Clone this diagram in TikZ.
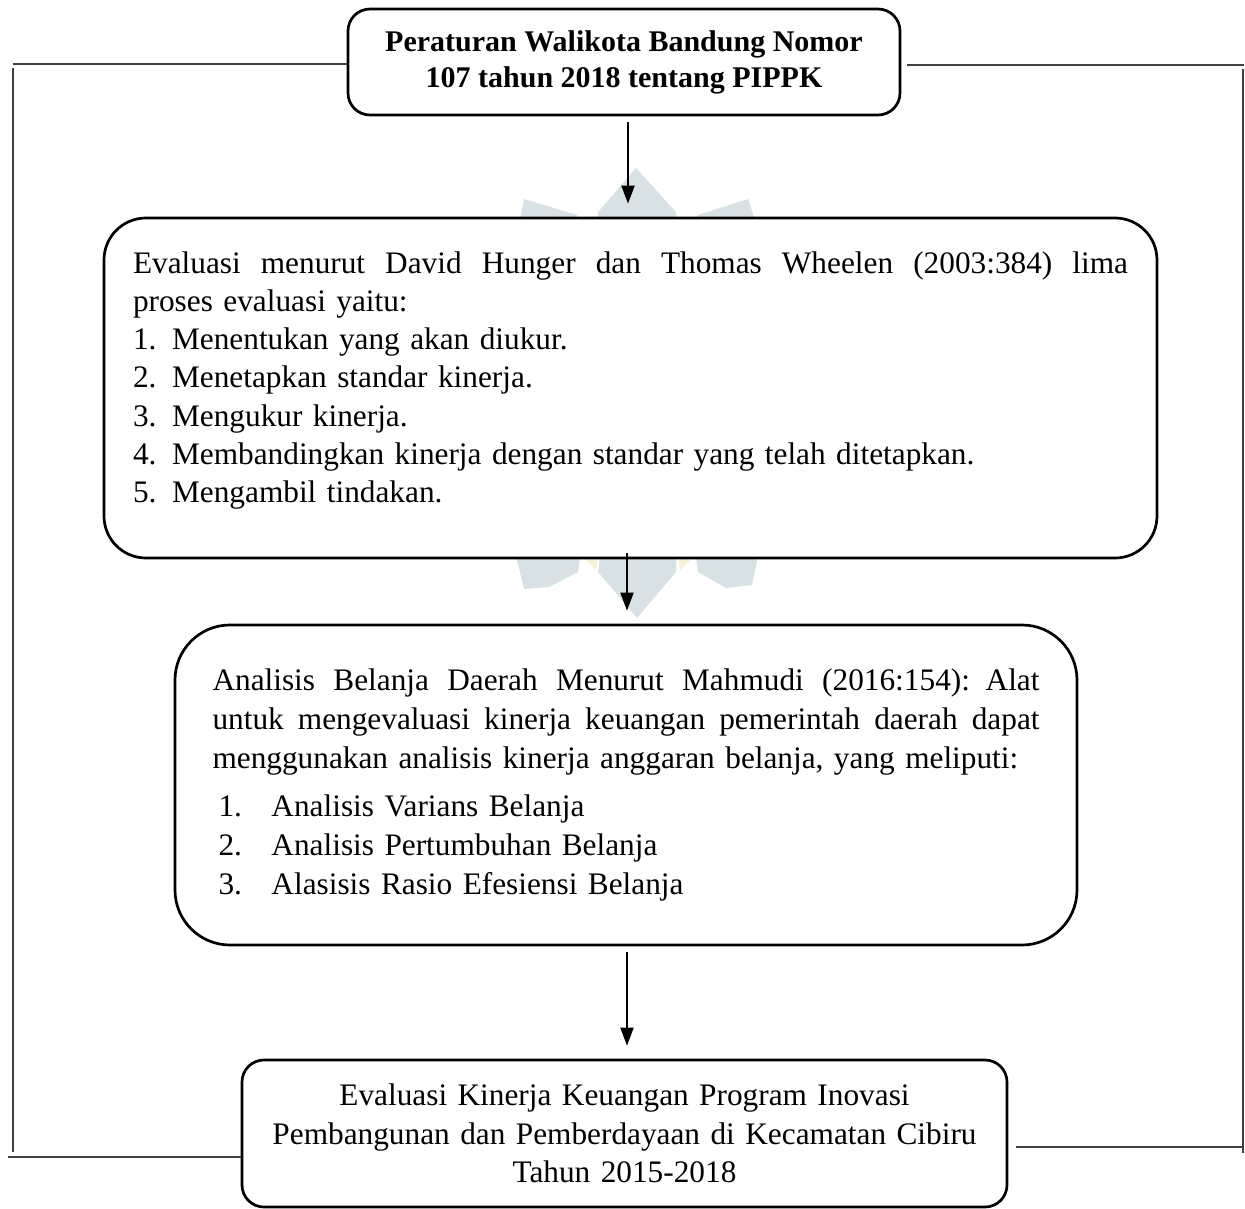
\documentclass[tikz,border=0pt]{standalone}
\usepackage{fontspec}
\setmainfont{Liberation Serif}
\usetikzlibrary{arrows.meta}

\definecolor{tanda}{RGB}{216,226,228}
\definecolor{kuning}{RGB}{245,243,214}
\newcommand{\hurufteks}{\fontsize{31.3}{38.3}\selectfont}
\newcommand{\ruangbawah}[1]{\par\nointerlineskip\vbox to #1{}}
%Baris rata kiri-kanan
\newcommand{\rata}[2]{\leavevmode\hbox to #1{\spaceskip=0.25em plus 1em\relax #2}}

\begin{document}
\begin{tikzpicture}[x=1pt,y=-1pt,
  kotak/.style={draw, line width=2.7pt, fill=white, inner sep=0pt, font=\hurufteks},
  panah/.style={-{Triangle[length=18pt,width=13pt]}, line width=2pt},
  garis/.style={line width=1.5pt, draw=black!75}]

\useasboundingbox (0,0) rectangle (1245,1209);

%Tanda air di belakang (hanya terlihat di sela kotak)
\fill[tanda] (636,168) -- (676,212) -- (676,220) -- (598,220) -- (598,212) -- cycle;
\fill[tanda] (524,199) -- (577,215) -- (578,220) -- (520,220) -- cycle;
\fill[tanda] (698,215) -- (748,199) -- (755,220) -- (696,220) -- cycle;
\fill[tanda] (600,556) -- (676,556) -- (676,572) -- (637,618) -- (598,572) -- cycle;
\fill[tanda] (516,556) -- (580,556) -- (578,572) -- (549,587) -- (524,589) -- cycle;
\fill[tanda] (696,556) -- (758,556) -- (752,585) -- (726,588) -- (698,572) -- cycle;
\fill[kuning] (582,556) -- (598,556) -- (596,570) -- cycle;
\fill[kuning] (678,556) -- (694,556) -- (680,570) -- cycle;

%Butir daftar: nomor dan isi
\def\butir(#1,#2){\hspace*{6pt}\makebox[53pt][l]{#1}#2}

%Kotak-kotak
\node[kotak, rounded corners=22pt, minimum width=552pt, minimum height=106pt,
  align=center, font=\fontsize{30}{36}\selectfont\bfseries] (perwal) at (624,62)
  {Peraturan Walikota Bandung Nomor\\107 tahun 2018 tentang PIPPK};

\node[kotak, rounded corners=42pt, minimum width=1053pt, minimum height=340pt,
  text width=995pt, align=left] (evaluasi) at (630.5,388)
  {\rata{995pt}{Evaluasi menurut David Hunger dan Thomas Wheelen (2003:384) lima}\\
   proses evaluasi yaitu:\\
   1. Menentukan yang akan diukur.\\
   2. Menetapkan standar kinerja.\\
   3. Mengukur kinerja.\\
   4. Membandingkan kinerja dengan standar yang telah ditetapkan.\\
   5. Mengambil tindakan.\ruangbawah{15pt}};

\node[kotak, rounded corners=55pt, minimum width=902pt, minimum height=320pt,
  text width=827pt, align=left, font=\fontsize{31.3}{39.3}\selectfont] (analisis) at (626,785)
  {\rata{827pt}{Analisis Belanja Daerah Menurut Mahmudi (2016:154): Alat}\\
   \rata{827pt}{untuk mengevaluasi kinerja keuangan pemerintah daerah dapat}\\
   menggunakan analisis kinerja anggaran belanja, yang meliputi:\\[8pt]
   \butir(1.,Analisis Varians Belanja)\\
   \butir(2.,Analisis Pertumbuhan Belanja)\\
   \butir(3.,Alasisis Rasio Efesiensi Belanja)};

\node[kotak, rounded corners=22pt, minimum width=765pt, minimum height=147pt,
  text width=740pt, align=center] (hasil) at (624.5,1133.5)
  {Evaluasi Kinerja Keuangan Program Inovasi\\
   Pembangunan dan Pemberdayaan di Kecamatan Cibiru\\
   Tahun 2015-2018};

%Panah antar kotak
\draw[panah] ([xshift=4pt,yshift=-6pt]perwal.south) -- ([xshift=4pt,yshift=13pt]perwal.south |- evaluasi.north);
\draw[panah] ([xshift=-3.5pt,yshift=6pt]evaluasi.south) -- ([xshift=-3.5pt,yshift=13pt]evaluasi.south |- analisis.north);
\draw[panah] ([xshift=1pt,yshift=-6pt]analisis.south) -- ([xshift=1pt,yshift=13pt]analisis.south |- hasil.north);

%Garis samping kiri
\coordinate (kiriatas) at (13,64);
\coordinate (kiribawah) at (13,1152);
\coordinate (kiriujung) at (8,1157);
\draw[garis] (perwal.west |- kiriatas) -- (kiriatas);
\draw[garis] ([yshift=-4pt]kiriatas) -- (kiribawah);
\draw[garis] (kiriujung) -- (hasil.west |- kiriujung);

%Garis samping kanan
\coordinate (kananatas) at (1244,65);
\coordinate (kananbawah) at (1243,1153);
\coordinate (kananujung) at (1244,1147);
\draw[garis] ([xshift=6pt]perwal.east |- kananatas) -- (kananatas);
\draw[garis] ([xshift=-1pt,yshift=-4pt]kananatas) -- (kananbawah);
\draw[garis] ([xshift=8pt]hasil.east |- kananujung) -- (kananujung);

\end{tikzpicture}
\end{document}
